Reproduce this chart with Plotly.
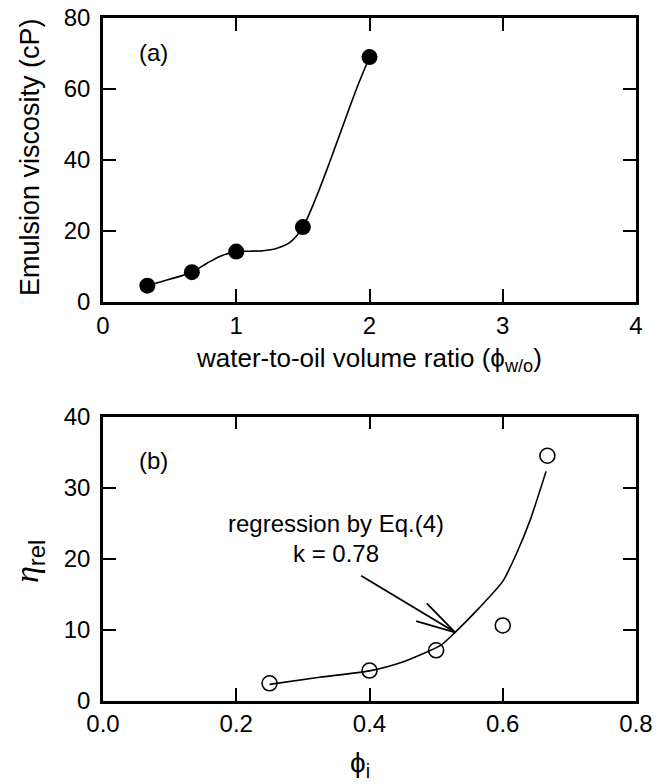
import plotly.graph_objects as go

# ---------------- data ----------------
# panel (a)
a_x = [0.333, 0.667, 1.0, 1.5, 2.0]
a_y = [4.6, 8.4, 14.2, 21.1, 69.0]
a_fit_x = [0.333, 0.5, 0.667, 0.78, 0.88, 1.0, 1.1, 1.2, 1.3, 1.4, 1.5, 1.6, 1.7, 1.8, 1.9, 2.0]
a_fit_y = [4.6, 6.4, 8.4, 10.9, 12.9, 14.2, 14.3, 14.45, 15.1, 16.7, 21.1, 29.5, 39.3, 49.6, 59.8, 69.0]

# panel (b)
b_x = [0.25, 0.40, 0.50, 0.60, 0.667]
b_y = [2.45, 4.25, 7.1, 10.6, 34.5]
b_fit_x = [0.25, 0.325, 0.40, 0.451, 0.48, 0.5085, 0.5285, 0.564, 0.60, 0.621, 0.641, 0.665]
b_fit_y = [2.3, 3.3, 4.2, 5.5, 6.6, 7.9, 9.63, 13.0, 16.8, 20.8, 25.4, 32.3]

a_xticks = [0, 1, 2, 3, 4]
a_yticks = [0, 20, 40, 60, 80]
b_xticks = [0.0, 0.2, 0.4, 0.6, 0.8]
b_yticks = [0, 10, 20, 30, 40]

# arrow annotation in panel (b): tail, tip and two barb ends (data coords)
arrow_tail = (0.3875, 17.6)
arrow_tip = (0.5285, 9.63)
arrow_barbs = [(0.486, 13.7), (0.470, 11.2)]

FONT = "Liberation Sans, Arial, Helvetica, sans-serif"
W, H = 666, 784

fig = go.Figure()

fig.add_trace(go.Scatter(x=a_fit_x, y=a_fit_y, mode="lines",
                         line=dict(color="black", width=1.6, shape="spline", smoothing=0.8),
                         xaxis="x", yaxis="y", showlegend=False, hoverinfo="skip"))
fig.add_trace(go.Scatter(x=a_x, y=a_y, mode="markers",
                         marker=dict(color="black", size=16, line=dict(width=0)),
                         xaxis="x", yaxis="y", showlegend=False))

fig.add_trace(go.Scatter(x=b_fit_x, y=b_fit_y, mode="lines",
                         line=dict(color="black", width=1.6, shape="spline", smoothing=0.6),
                         xaxis="x2", yaxis="y2", showlegend=False, hoverinfo="skip"))
fig.add_trace(go.Scatter(x=b_x, y=b_y, mode="markers",
                         marker=dict(symbol="circle-open", color="black", size=15,
                                     line=dict(width=1.6, color="black")),
                         xaxis="x2", yaxis="y2", showlegend=False))

axis_common = dict(showline=True, linecolor="black", linewidth=2.5, mirror="allticks",
                   ticks="inside", ticklen=13, tickwidth=2, tickcolor="black",
                   showgrid=False, zeroline=False, automargin=False,
                   tickfont=dict(family=FONT, size=24, color="black"))

xdom = [103 / W, 636 / W]
fig.update_layout(
    width=W, height=H, autosize=False,
    margin=dict(l=0, r=0, t=0, b=0, pad=0),
    paper_bgcolor="white", plot_bgcolor="white",
    font=dict(family=FONT, color="black", size=24),
    xaxis=dict(domain=xdom, range=[0, 4], tickvals=a_xticks, anchor="y", **axis_common),
    yaxis=dict(domain=[1 - 302 / H, 1 - 18 / H], range=[0, 80], tickvals=a_yticks,
               anchor="x", ticklabelstandoff=5, **axis_common),
    xaxis2=dict(domain=xdom, range=[0, 0.8], tickvals=b_xticks, tickformat=".1f",
                anchor="y2", **axis_common),
    yaxis2=dict(domain=[1 - 700.7 / H, 1 - 416.7 / H], range=[0, 40], tickvals=b_yticks,
                anchor="x2", ticklabelstandoff=5, **axis_common),
)

# axis titles (paper coordinates)
def paper_text(text, px, py, size, angle=0, family=FONT):
    fig.add_annotation(x=px / W, y=1 - py / H, xref="paper", yref="paper", text=text,
                       showarrow=False, textangle=angle, xanchor="center", yanchor="middle",
                       font=dict(family=family, size=size, color="black"))

paper_text("Emulsion viscosity (cP)", 30, 157, 27, angle=-90)
paper_text("water-to-oil volume ratio (ϕ<sub>w/o</sub>)", 369, 360, 26)
paper_text("<span style='font-family:Liberation Serif'><i>η</i></span><sub>rel</sub>",
           29, 561, 34, angle=-90)
paper_text("ϕ<sub>i</sub>", 360, 764, 28)

fig.add_annotation(x=0.38, y=70.4, xref="x", yref="y", text="(a)", showarrow=False,
                   font=dict(family=FONT, size=24))
fig.add_annotation(x=0.0755, y=33.9, xref="x2", yref="y2", text="(b)", showarrow=False,
                   font=dict(family=FONT, size=24))
fig.add_annotation(x=0.35, y=25.0, xref="x2", yref="y2", text="regression by Eq.(4)",
                   showarrow=False, font=dict(family=FONT, size=24))
fig.add_annotation(x=0.35, y=20.8, xref="x2", yref="y2", text="k = 0.78",
                   showarrow=False, font=dict(family=FONT, size=24))

line_style = dict(color="black", width=1.8)
fig.add_shape(type="line", xref="x2", yref="y2", x0=arrow_tail[0], y0=arrow_tail[1],
              x1=arrow_tip[0], y1=arrow_tip[1], line=line_style)
for bx, by in arrow_barbs:
    fig.add_shape(type="line", xref="x2", yref="y2", x0=bx, y0=by,
                  x1=arrow_tip[0], y1=arrow_tip[1], line=line_style)

fig.write_html("out.html")
